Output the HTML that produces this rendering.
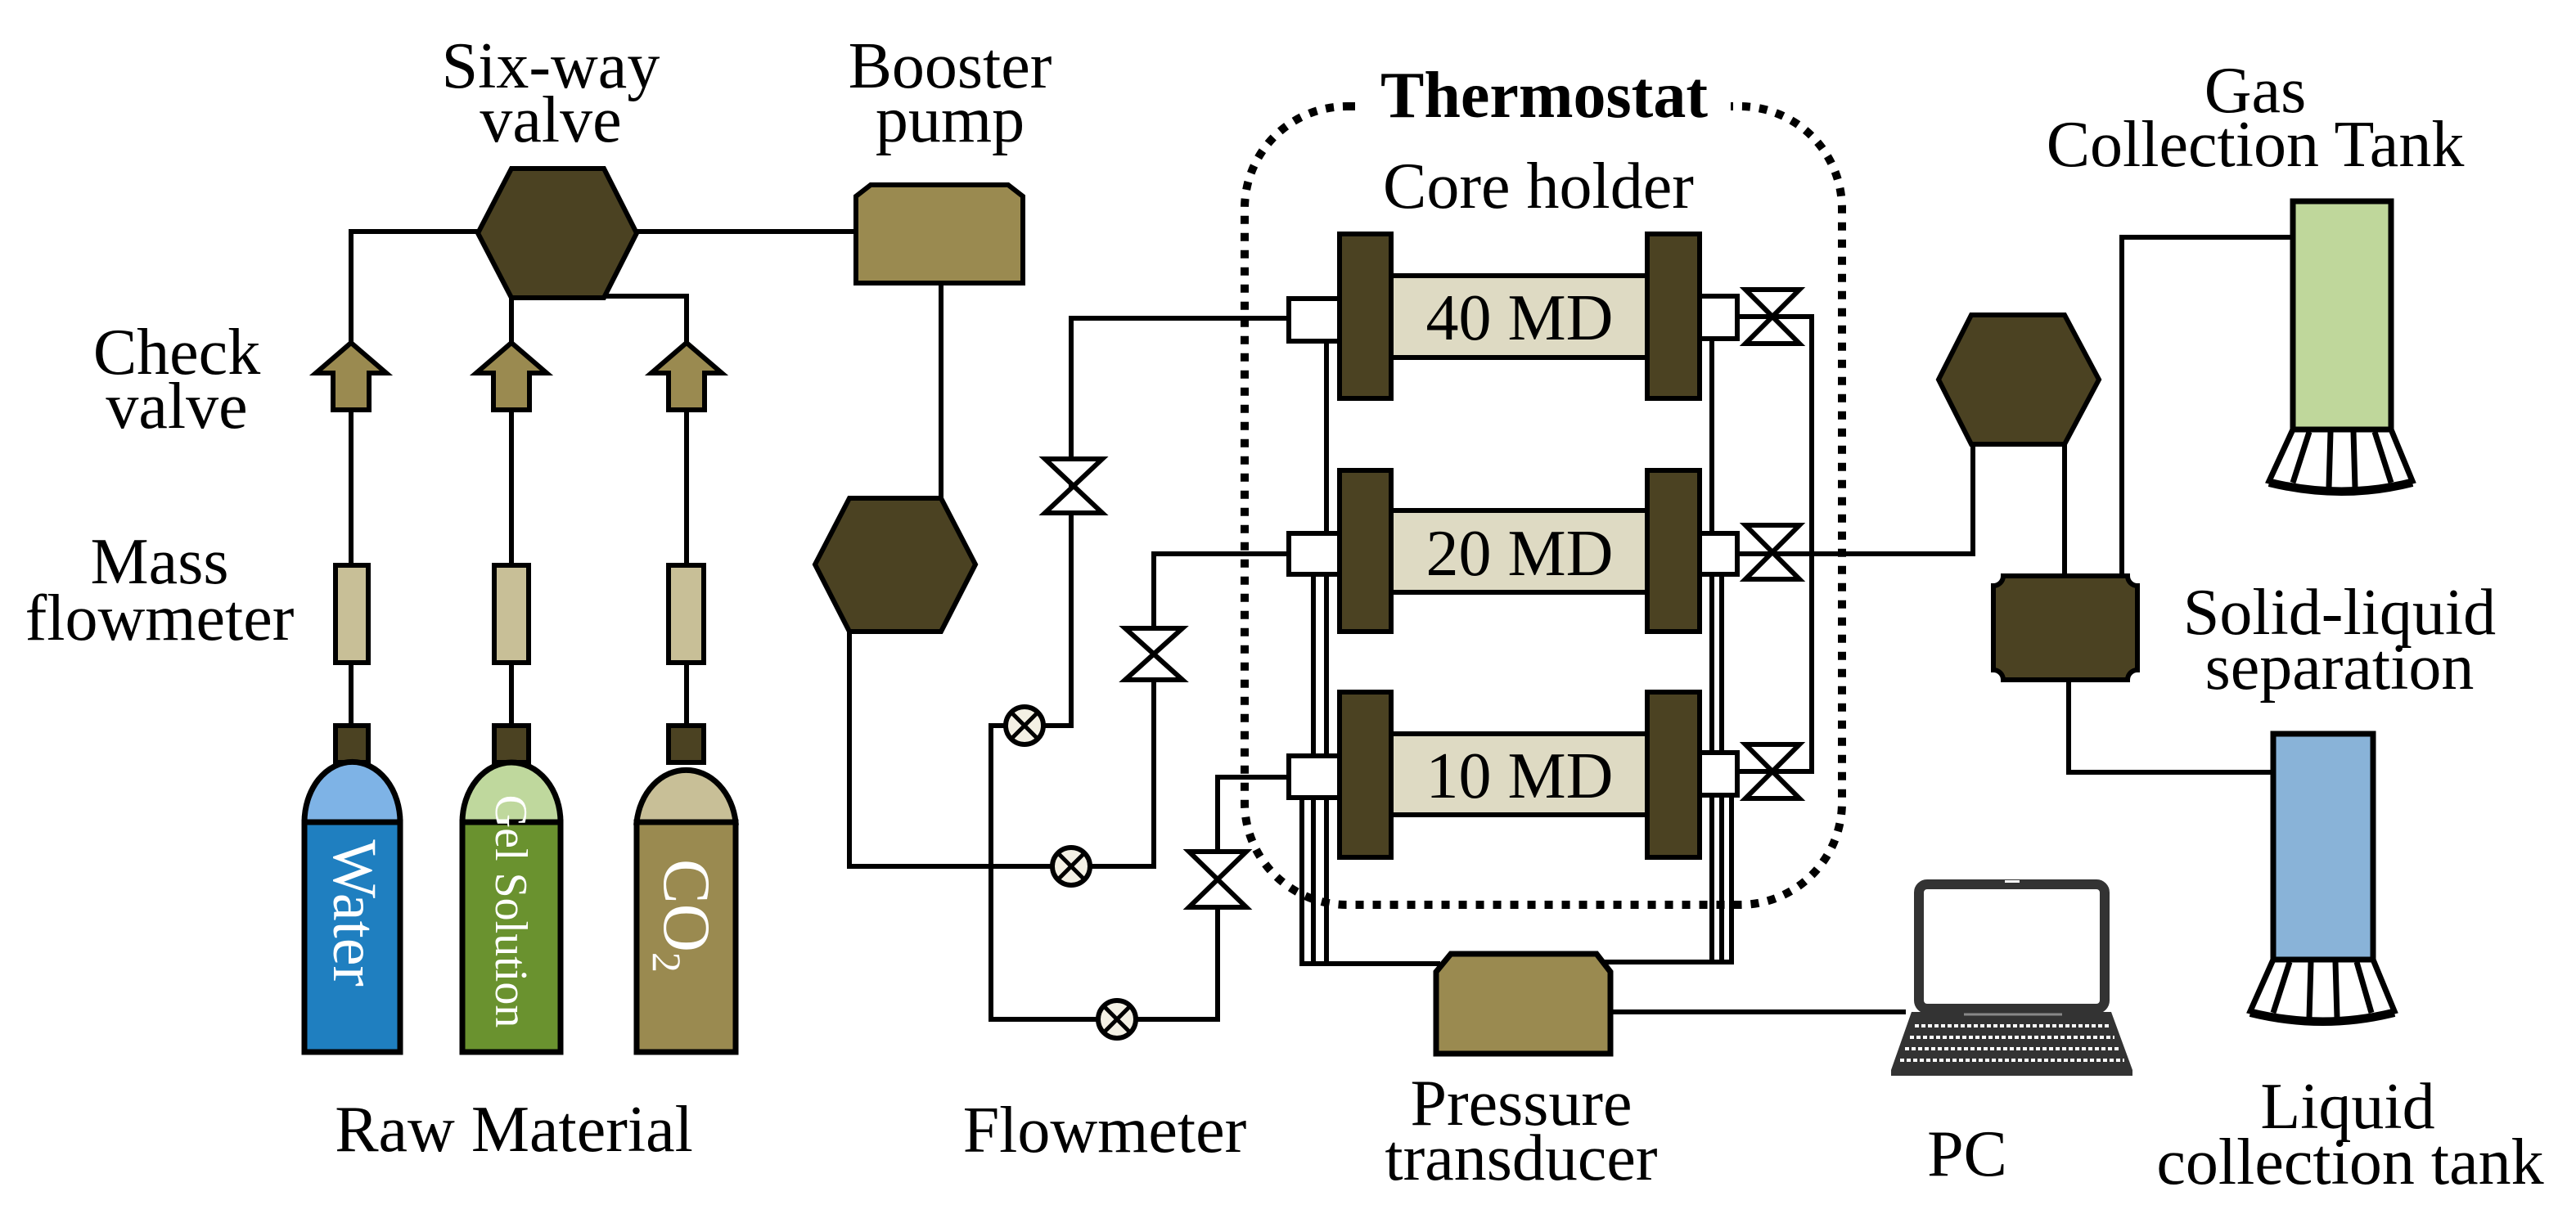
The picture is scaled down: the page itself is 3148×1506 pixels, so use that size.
<!DOCTYPE html>
<html><head><meta charset="utf-8"><style>
html,body{margin:0;padding:0;background:#fff}
svg{display:block}
text{font-family:"Liberation Serif",serif;fill:#000}
</style></head><body>
<svg width="3148" height="1506" viewBox="0 0 3148 1506" xmlns="http://www.w3.org/2000/svg">
<rect width="3148" height="1506" fill="#fff"/>
<g stroke="#000" stroke-width="6" fill="none">
<!-- top manifold -->
<polyline points="429,419 429,283 584,283"/>
<line x1="778" y1="283" x2="1046" y2="283"/>
<line x1="625" y1="364" x2="625" y2="419"/>
<polyline points="738,362 839,362 839,419"/>
<line x1="429" y1="501" x2="429" y2="691"/><line x1="625" y1="501" x2="625" y2="691"/><line x1="839" y1="501" x2="839" y2="691"/>
<line x1="429" y1="810" x2="429" y2="887"/><line x1="625" y1="810" x2="625" y2="887"/><line x1="839" y1="810" x2="839" y2="887"/>
<line x1="1150" y1="346" x2="1150" y2="609"/>
<polyline points="1038,772 1038,1059 1284,1059"/>
<!-- flow lines -->
<polyline points="1575,389 1309,389 1309,887 1277,887"/>
<polyline points="1227,887 1211,887 1211,1246 1340,1246"/>
<polyline points="1575,677 1410,677 1410,1059 1334,1059"/>
<polyline points="1575,950 1488,950 1488,1246 1390,1246"/>
<!-- pipes to transducer -->
<line x1="1621" y1="417" x2="1621" y2="1178"/>
<line x1="1605" y1="702" x2="1605" y2="1178"/>
<line x1="1591" y1="975" x2="1591" y2="1178"/>
<line x1="1588" y1="1178" x2="1760" y2="1178"/>
<line x1="2092" y1="417" x2="2092" y2="1176"/>
<line x1="2104" y1="702" x2="2104" y2="1176"/>
<line x1="2116" y1="975" x2="2116" y2="1176"/>
<line x1="1960" y1="1176" x2="2119" y2="1176"/>
<line x1="1971" y1="1237" x2="2329" y2="1237"/>
<!-- right valves -->
<line x1="2123" y1="387" x2="2214" y2="387"/>
<line x1="2123" y1="943" x2="2214" y2="943"/>
<line x1="2214" y1="384" x2="2214" y2="946"/>
<polyline points="2123,677 2411,677 2411,543"/>
<line x1="2523" y1="543" x2="2523" y2="704"/>
<polyline points="2593,704 2593,290 2802,290"/>
<polyline points="2528,831 2528,944 2778,944"/>
</g>
<!-- thermostat -->
<rect x="1521" y="130" width="730" height="976" rx="125" fill="none" stroke="#000" stroke-width="10" stroke-dasharray="10 11"/>
<rect x="1660" y="90" width="455" height="80" fill="#fff"/>
<text x="1887" y="143" font-size="80" font-weight="bold" text-anchor="middle">Thermostat</text>
<text x="1880" y="254" font-size="80" text-anchor="middle">Core holder</text>
<!-- hexagons -->
<g fill="#4b4222" stroke="#000" stroke-width="6">
<polygon points="584,285 625,206 738,206 778,285 738,364 625,364"/>
<polygon points="996,690 1038,609 1150,609 1192,690 1150,772 1038,772"/>
<polygon points="2369,464 2409,385 2523,385 2565,464 2523,543 2409,543"/>
<path d="M2448,704 L2600,704 A12,12 0 0 0 2612,716 L2612,819 A12,12 0 0 0 2600,831 L2448,831 A12,12 0 0 0 2436,819 L2436,716 A12,12 0 0 0 2448,704 Z"/>
</g>
<!-- booster pump & transducer -->
<path d="M1064,226 L1232,226 L1250,240 L1250,346 L1046,346 L1046,240 Z" fill="#9a8a50" stroke="#000" stroke-width="6"/>
<path d="M1773,1166 L1951,1166 L1968,1188 L1968,1288 L1755,1288 L1755,1188 Z" fill="#9a8a50" stroke="#000" stroke-width="7"/>
<!-- check valves -->
<g fill="#9a8a50" stroke="#000" stroke-width="6">
<path d="M429,419 L472,456 L451,456 L451,501 L407,501 L407,456 L386,456 Z"/>
<path d="M625,419 L668,456 L647,456 L647,501 L603,501 L603,456 L582,456 Z"/>
<path d="M839,419 L882,456 L861,456 L861,501 L817,501 L817,456 L796,456 Z"/>
</g>
<!-- mass flowmeters -->
<g fill="#c8bf97" stroke="#000" stroke-width="6">
<rect x="410" y="691" width="40" height="119"/><rect x="604" y="691" width="42" height="119"/><rect x="817" y="691" width="43" height="119"/>
</g>
<g fill="#4b4222" stroke="#000" stroke-width="6">
<rect x="410" y="887" width="40" height="45"/><rect x="604" y="887" width="42" height="45"/><rect x="817" y="887" width="43" height="45"/>
</g>
<!-- cylinders -->
<g stroke="#000" stroke-width="7">
<path d="M372,1005 A58,73 0 0 1 489,1005 Z" fill="#7eb3e6"/>
<rect x="372" y="1005" width="117" height="281" fill="#1f7fc0"/>
<path d="M565,1005 A60,73 0 0 1 685,1005 Z" fill="#bfd89d"/>
<rect x="565" y="1005" width="120" height="281" fill="#6a922f"/>
<path d="M778,1005 A61,73 0 0 1 899,1005 Z" fill="#c8bf97"/>
<rect x="778" y="1005" width="121" height="281" fill="#9a8a50"/>
</g>
<text transform="translate(408,1116) rotate(90)" font-size="76" text-anchor="middle" style="fill:#fff">Water</text>
<text transform="translate(606,1114) rotate(90)" font-size="56" text-anchor="middle" style="fill:#fff">Gel Solution</text>
<text transform="translate(812,1050) rotate(90)" font-size="82" style="fill:#fff">CO<tspan font-size="50" dy="14">2</tspan></text>
<!-- core holders -->
<g stroke="#000" stroke-width="6">
<rect x="1700" y="337" width="313" height="100" fill="#dedac3"/>
<rect x="1700" y="624" width="313" height="100" fill="#dedac3"/>
<rect x="1700" y="897" width="313" height="99" fill="#dedac3"/>
<g fill="#4b4222">
<rect x="1637" y="286" width="63" height="201"/><rect x="2013" y="286" width="64" height="201"/>
<rect x="1637" y="575" width="63" height="197"/><rect x="2013" y="575" width="64" height="197"/>
<rect x="1637" y="846" width="63" height="202"/><rect x="2013" y="846" width="64" height="202"/>
</g>
<g fill="#fff">
<rect x="1575" y="365" width="62" height="52"/><rect x="1575" y="652" width="62" height="50"/><rect x="1575" y="924" width="62" height="51"/>
<rect x="2077" y="362" width="46" height="52"/><rect x="2077" y="652" width="46" height="50"/><rect x="2077" y="920" width="46" height="52"/>
</g>
</g>
<g font-size="80" text-anchor="middle">
<text x="1857" y="415">40 MD</text><text x="1857" y="703">20 MD</text><text x="1857" y="975">10 MD</text>
</g>
<!-- gate valves -->
<g fill="#fff" stroke="#000" stroke-width="6">
<path d="M1277,561 L1347,561 L1277,627 L1347,627 Z"/>
<path d="M1375,768 L1445,768 L1375,831 L1445,831 Z"/>
<path d="M1453,1041 L1523,1041 L1453,1109 L1523,1109 Z"/>
<path d="M2133,354 L2199,354 L2133,420 L2199,420 Z"/>
<path d="M2133,642 L2199,642 L2133,708 L2199,708 Z"/>
<path d="M2133,910 L2199,910 L2133,976 L2199,976 Z"/>
</g>
<!-- flowmeters ⊗ -->
<g stroke="#000" stroke-width="6" fill="#f3f0e4">
<circle cx="1252" cy="887" r="23"/><circle cx="1309" cy="1059" r="23"/><circle cx="1365" cy="1246" r="23"/>
</g>
<g stroke="#000" stroke-width="5">
<path d="M1236,871 L1268,903 M1268,871 L1236,903"/>
<path d="M1293,1043 L1325,1075 M1325,1043 L1293,1075"/>
<path d="M1349,1230 L1381,1262 M1381,1230 L1349,1262"/>
</g>
<!-- tanks -->
<rect x="2802" y="246" width="120" height="279" fill="#bfd79b" stroke="#000" stroke-width="7"/>
<rect x="2778" y="897" width="122" height="276" fill="#89b3d8" stroke="#000" stroke-width="7"/>
<g stroke="#000" stroke-width="7" fill="#fff">
<path d="M2802,525 L2922,525 L2948,588 Q2862,610 2773,588 Z"/>
<path d="M2778,1173 L2900,1173 L2926,1236 Q2839,1258 2750,1236 Z"/>
</g>
<g stroke="#000" stroke-width="7">
<path d="M2822,528 L2802,590 M2902,528 L2922,590 M2848,528 L2846,596 M2876,528 L2878,596"/>
<path d="M2798,1176 L2778,1238 M2880,1176 L2898,1238 M2824,1176 L2822,1244 M2854,1176 L2856,1244"/>
<path d="M2773,590 Q2862,612 2948,590" stroke-width="10" fill="none"/>
<path d="M2750,1238 Q2839,1260 2926,1238" stroke-width="10" fill="none"/>
</g>
<!-- laptop -->
<rect x="2345" y="1081" width="227" height="152" rx="10" fill="#fff" stroke="#333" stroke-width="12"/>
<rect x="2450" y="1076" width="18" height="3" fill="#fff"/>
<path d="M2336,1237 L2580,1237 L2606,1308 L2606,1315 L2311,1315 L2311,1308 Z" fill="#333"/>
<g stroke="#fff" stroke-width="4" stroke-dasharray="5 3">
<line x1="2340" y1="1254" x2="2578" y2="1254"/>
<line x1="2334" y1="1268" x2="2584" y2="1268"/>
<line x1="2328" y1="1282" x2="2590" y2="1282"/>
<line x1="2322" y1="1296" x2="2596" y2="1296"/>
</g>
<line x1="2400" y1="1240" x2="2520" y2="1240" stroke="#888" stroke-width="3"/>
<!-- labels -->
<g font-size="80" text-anchor="middle">
<text x="673" y="107">Six-way</text><text x="673" y="173">valve</text>
<text x="1161" y="107">Booster</text><text x="1161" y="173">pump</text>
<text x="2756" y="137">Gas</text><text x="2756" y="203">Collection Tank</text>
<text x="216" y="457">Check</text><text x="216" y="523">valve</text>
<text x="195" y="713">Mass</text><text x="195" y="782">flowmeter</text>
<text x="628" y="1407">Raw Material</text>
<text x="1350" y="1408">Flowmeter</text>
<text x="1859" y="1375">Pressure</text><text x="1859" y="1442">transducer</text>
<text x="2404" y="1437">PC</text>
<text x="2859" y="775">Solid-liquid</text><text x="2859" y="842">separation</text>
<text x="2869" y="1379">Liquid</text><text x="2872" y="1447">collection tank</text>
</g>
</svg>
</body></html>
